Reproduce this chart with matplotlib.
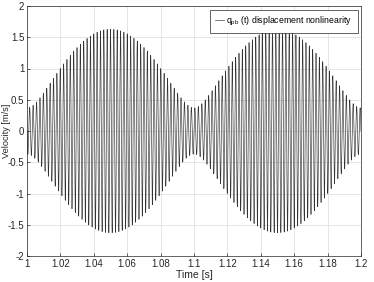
import numpy as np
import matplotlib
matplotlib.use("Agg")
import matplotlib.pyplot as plt
from matplotlib.ticker import FixedLocator

# Signal: sum of two tones beating at 10 Hz
# envelope max ~1.63 at t=1.05,1.15 ; min ~0.37 at t=1.0,1.1,1.2
component_freqs = [495.0, 505.0]      # Hz
component_amps = [1.0, 0.63]          # m/s
peak_time = 1.05                      # s, where tones are in phase
t_start, t_end = 1.0, 1.2
x_ticks = [1.0, 1.02, 1.04, 1.06, 1.08, 1.1, 1.12, 1.14, 1.16, 1.18, 1.2]
x_ticklabels = ["1", "1.02", "1.04", "1.06", "1.08", "1.1", "1.12", "1.14", "1.16", "1.18", "1.2"]
y_ticks = [-2, -1.5, -1, -0.5, 0, 0.5, 1, 1.5, 2]
y_ticklabels = ["-2", "-1.5", "-1", "-0.5", "0", "0.5", "1", "1.5", "2"]

t = np.linspace(t_start, t_end, 20001)
v = sum(a * np.cos(2 * np.pi * f * (t - peak_time)) for a, f in zip(component_amps, component_freqs))

plt.rcParams['font.family'] = ['Liberation Sans', 'DejaVu Sans']
fig = plt.figure(figsize=(3.74, 2.82), dpi=100)
ax = fig.add_axes([27/374, 1 - 256/282, (361-27)/374, (256-6)/282])
ax.plot(t, v, color='#333333', lw=0.45, label=r'q$_{\mathregular{pb}}$ (t) displacement nonlinearity')
ax.set_xlim(t_start, t_end)
ax.set_ylim(-2, 2)
ax.xaxis.set_major_locator(FixedLocator(x_ticks))
ax.set_xticklabels(x_ticklabels)
ax.yaxis.set_major_locator(FixedLocator(y_ticks))
ax.set_yticklabels(y_ticklabels)
ax.grid(True, color='#e0e0e0', lw=0.6)
ax.tick_params(direction='in', labelsize=7, length=2.5, width=0.5, colors='#262626', pad=2)
for s in ax.spines.values():
    s.set_color('#262626')
    s.set_linewidth(0.5)
ax.set_xlabel('Time [s]', fontsize=7.5, color='#262626', labelpad=1)
ax.set_ylabel('Velocity [m/s]', fontsize=6.6, color='#262626', labelpad=0)
ax.yaxis.set_label_coords(-0.047, 0.5)
leg = ax.legend(loc='upper right', fontsize=6.3, frameon=True, fancybox=False,
                handlelength=1.0, handletextpad=0.3, borderpad=0.6, borderaxespad=0.4)
leg.get_frame().set_edgecolor('#262626')
leg.get_frame().set_linewidth(0.5)
leg.get_frame().set_alpha(1)
fig.savefig('out.png', dpi=100)
